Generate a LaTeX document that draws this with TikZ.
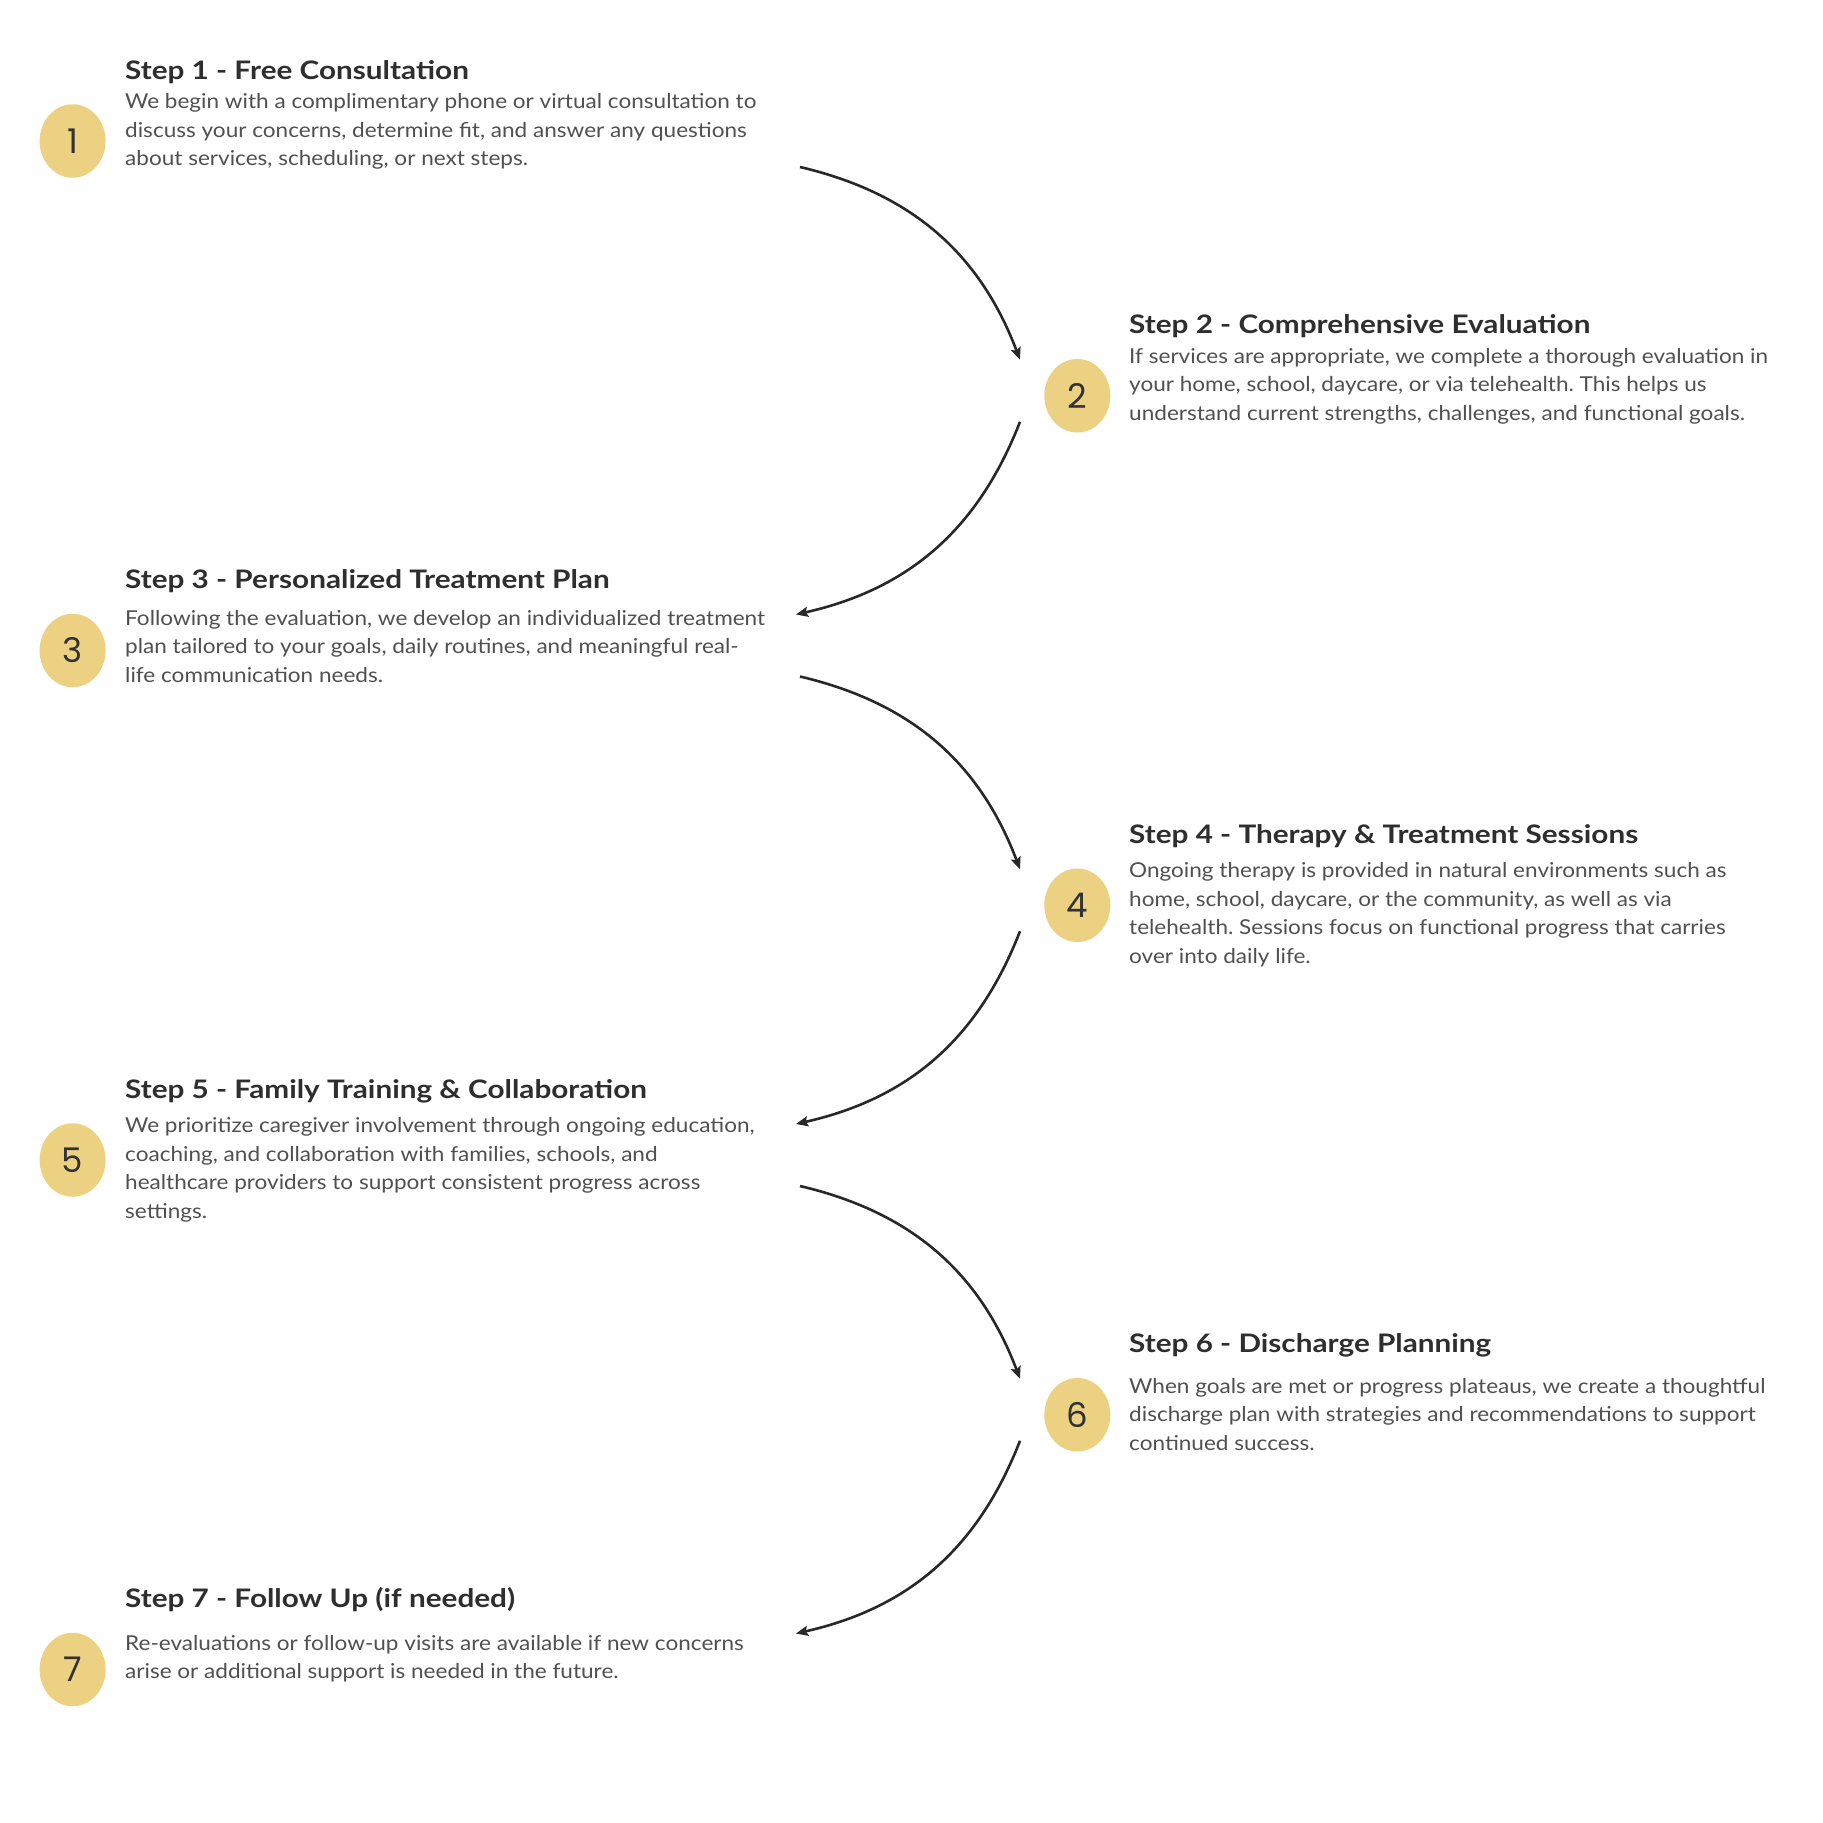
\documentclass[tikz,border=0pt]{standalone}
\usepackage{fontspec}
\setmainfont{Lato}[FakeStretch=1.10]
\newfontfamily\titlefont{Lato}[FakeStretch=1.165]
\newfontfamily\numfont{Poppins}
\usetikzlibrary{shapes.geometric,arrows.meta}
\definecolor{circ}{RGB}{237,209,131}
\definecolor{titlec}{RGB}{46,46,46}
\definecolor{bodyc}{RGB}{80,80,80}
\definecolor{numc}{RGB}{50,50,50}
\definecolor{arrc}{RGB}{40,40,40}
\newcommand{\bodylines}[1]{\vtop{\baselineskip=28.5pt\lineskiplimit=-100pt #1}}
\frenchspacing
\begin{document}
\begin{tikzpicture}[x=1pt,y=-1pt,
  numbub/.style={ellipse, fill=circ, minimum width=66pt, minimum height=73.5pt, inner sep=0pt,
    font=\numfont\fontsize{34}{34}\selectfont, text=numc},
  steptitle/.style={anchor=base west, inner sep=0pt, font=\titlefont\bfseries\fontsize{25.5}{30}\selectfont, text=titlec},
  stepbody/.style={anchor=base west, inner sep=0pt, font=\frenchspacing\fontsize{20.5}{28.5}\selectfont, text=bodyc},
  flow/.style={draw=arrc, line width=2.6pt, -{Stealth[length=12pt,width=10pt,inset=2pt]}, bend left=28}
]
\useasboundingbox[fill=white] (0,0) rectangle (1823,1823);

% circles
\node[numbub] (c1) at (72.6,141) {1};
\node[numbub] (c2) at (1077.3,395.75) {2};
\node[numbub] (c3) at (72.6,650.5) {3};
\node[numbub] (c4) at (1077.3,905.25) {4};
\node[numbub] (c5) at (72.6,1160) {5};
\node[numbub] (c6) at (1077.3,1414.75) {6};
\node[numbub] (c7) at (72.6,1669.5) {7};

% titles
\node[steptitle] (t1) at (125,79) {Step 1 - Free Consultation};
\node[steptitle] (t2) at (1129,333.75) {Step 2 - Comprehensive Evaluation};
\node[steptitle] (t3) at (125,588.5) {Step 3 - Personalized Treatment Plan};
\node[steptitle] (t4) at (1129,843.25) {Step 4 - Therapy \& Treatment Sessions};
\node[steptitle] (t5) at (125,1098) {Step 5 - Family Training \& Collaboration};
\node[steptitle] (t6) at (1129,1352.75) {Step 6 - Discharge Planning};
\node[steptitle] (t7) at (125,1607.5) {Step 7 - Follow Up (if needed)};

% bodies
\node[stepbody] (b1) at (125,108.5) {\bodylines{%
  \hbox{We begin with a complimentary phone or virtual consultation to}%
  \hbox{discuss your concerns, determine fit, and answer any questions}%
  \hbox{about services, scheduling, or next steps.}}};
\node[stepbody] (b2) at (1129,363.25) {\bodylines{%
  \hbox{If services are appropriate, we complete a thorough evaluation in}%
  \hbox{your home, school, daycare, or via telehealth. This helps us}%
  \hbox{understand current strengths, challenges, and functional goals.}}};
\node[stepbody] (b3) at (125,625) {\bodylines{%
  \hbox{Following the evaluation, we develop an individualized treatment}%
  \hbox{plan tailored to your goals, daily routines, and meaningful real-}%
  \hbox{life communication needs.}}};
\node[stepbody] (b4) at (1129,877.7) {\bodylines{%
  \hbox{Ongoing therapy is provided in natural environments such as}%
  \hbox{home, school, daycare, or the community, as well as via}%
  \hbox{telehealth. Sessions focus on functional progress that carries}%
  \hbox{over into daily life.}}};
\node[stepbody] (b5) at (125,1132.5) {\bodylines{%
  \hbox{We prioritize caregiver involvement through ongoing education,}%
  \hbox{coaching, and collaboration with families, schools, and}%
  \hbox{healthcare providers to support consistent progress across}%
  \hbox{settings.}}};
\node[stepbody] (b6) at (1129,1393.3) {\bodylines{%
  \hbox{When goals are met or progress plateaus, we create a thoughtful}%
  \hbox{discharge plan with strategies and recommendations to support}%
  \hbox{continued success.}}};
\node[stepbody] (b7) at (125,1650) {\bodylines{%
  \hbox{Re-evaluations or follow-up visits are available if new concerns}%
  \hbox{arise or additional support is needed in the future.}}};

% arrow end points
\coordinate (s12) at (800,167);    \coordinate (e12) at (1020,359.75);
\coordinate (s23) at (1020,421.75); \coordinate (e23) at (796,614.5);
\coordinate (s34) at (800,676.5);  \coordinate (e34) at (1020,869.25);
\coordinate (s45) at (1020,931.25); \coordinate (e45) at (796,1124);
\coordinate (s56) at (800,1186);   \coordinate (e56) at (1020,1378.75);
\coordinate (s67) at (1020,1440.75); \coordinate (e67) at (796,1633.5);

\draw[flow] (s12) to (e12);
\draw[flow] (s23) to (e23);
\draw[flow] (s34) to (e34);
\draw[flow] (s45) to (e45);
\draw[flow] (s56) to (e56);
\draw[flow] (s67) to (e67);
\end{tikzpicture}
\end{document}
